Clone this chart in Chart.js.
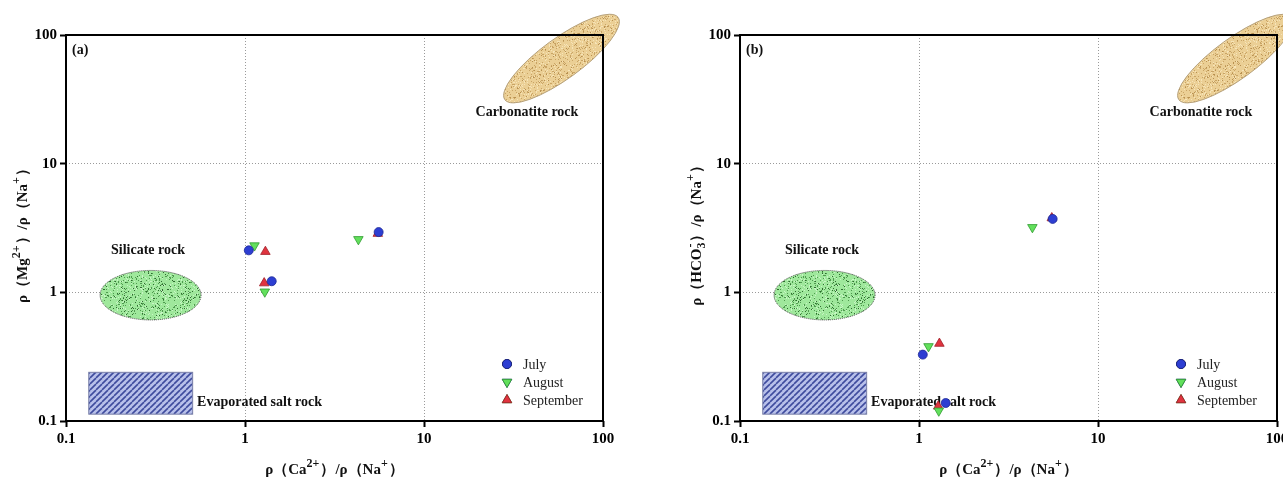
<!DOCTYPE html>
<html>
<head>
<meta charset="utf-8">
<script src="https://cdn.jsdelivr.net/npm/chart.js@4.4.1/dist/chart.umd.min.js"></script>
<style>
  html, body { margin: 0; padding: 0; background: #fff; overflow: hidden; width: 1283px; height: 481px; }
  canvas { position: absolute; top: 0; }
  #chartA { left: 0; }
  #chartB { left: 674px; }
</style>
</head>
<body>
<canvas id="chartA" width="640" height="481"></canvas>
<canvas id="chartB" width="640" height="481"></canvas>
<script>
// ---------------- DATA ----------------
const seriesNames = ['July', 'August', 'September'];
const tickValues = [0.1, 1, 10, 100];
const tickLabels = ['0.1', '1', '10', '100'];
// ρ(Ca2+)/ρ(Na+)
const julyCa = [1.05, 1.41, 5.58];
const augCa  = [1.13, 1.29, 4.30];
const sepCa  = [1.30, 1.28, 5.52];
// ρ(Mg2+)/ρ(Na+)  (panel a)
const julyMg = [2.12, 1.22, 2.94];
const augMg  = [2.31, 1.01, 2.58];
const sepMg  = [2.07, 1.18, 2.86];
// ρ(HCO3-)/ρ(Na+)  (panel b)
const julyHCO3 = [0.328, 0.138, 3.72];
const augHCO3  = [0.38, 0.12, 3.20];
const sepHCO3  = [0.40, 0.13, 3.78];
// region labels
const regionLabels = ['Carbonatite rock', 'Silicate rock', 'Evaporated salt rock'];
// axis titles: [text, mode] mode 0 normal, 1 superscript, 2 sub+sup stacked
const xTitleParts = [['ρ（Ca', 0], ['2+', 1], ['）/ρ（Na', 0], ['+', 1], ['）', 0]];
const yTitlePartsA = [['ρ（Mg', 0], ['2+', 1], ['）/ρ（Na', 0], ['+', 1], ['）', 0]];
const yTitlePartsB = [['ρ（HCO', 0], ['3|-', 2], ['）/ρ（Na', 0], ['+', 1], ['）', 0]];

// ---------------- STYLE / LAYOUT ----------------
const SERIF = "'Liberation Serif', 'Times New Roman', serif";
Chart.defaults.font.family = SERIF;
Chart.defaults.color = '#000';

// region shapes in data units
const shapes = {
  carbonTip1: [28.3, 31.4], carbonTip2: [121.5, 137], carbonMinorRatio: 0.29,
  silX: [0.155, 0.568], silY: [0.61, 1.48],
  evapX: [0.134, 0.51], evapY: [0.113, 0.239],
  carbonLabel: [37.6, 25.2], silLabel: [0.287, 2.13], evapLabel: [0.54, 0.1406]
};

function lcg(seed) { let s = seed; return () => { s = (s * 1664525 + 1013904223) % 4294967296; return s / 4294967296; }; }

function speckle(base, dots, seed) {
  const c = document.createElement('canvas'); c.width = 64; c.height = 64;
  const g = c.getContext('2d'); g.fillStyle = base; g.fillRect(0, 0, 64, 64);
  const r = lcg(seed);
  dots.forEach(([col, n]) => { g.fillStyle = col; for (let i = 0; i < n; i++) g.fillRect(Math.floor(r()*64), Math.floor(r()*64), 1, 1); });
  return c;
}
function hatch() {
  const c = document.createElement('canvas'); c.width = 6; c.height = 6;
  const g = c.getContext('2d'); g.fillStyle = '#b8c0ea'; g.fillRect(0, 0, 6, 6);
  g.strokeStyle = '#3f4c9e'; g.lineWidth = 1.6;
  for (let k = -6; k <= 12; k += 6) { g.beginPath(); g.moveTo(k, 6); g.lineTo(k + 6, 0); g.stroke(); }
  return c;
}

const MAINF = 'bold 15px ' + SERIF, SUPF = 'bold 12px ' + SERIF;
function richWidth(ctx, parts) {
  let w = 0;
  parts.forEach(([t, m]) => {
    if (m === 0) { ctx.font = MAINF; w += ctx.measureText(t).width; }
    else if (m === 2) { ctx.font = SUPF; const [a, b] = t.split('|'); w += Math.max(ctx.measureText(a).width, ctx.measureText(b).width) + 1; }
    else { ctx.font = SUPF; w += ctx.measureText(t).width + 1; }
  });
  return w;
}
function drawRich(ctx, parts, cx, cy, rot) {
  ctx.save();
  ctx.translate(cx, cy); ctx.rotate(rot);
  ctx.fillStyle = '#111'; ctx.textBaseline = 'alphabetic'; ctx.textAlign = 'left';
  let x = -richWidth(ctx, parts) / 2; const base = 5;
  parts.forEach(([t, m]) => {
    if (m === 0) { ctx.font = MAINF; ctx.fillText(t, x, base); x += ctx.measureText(t).width; }
    else if (m === 1) { ctx.font = SUPF; ctx.fillText(t, x, base - 7); x += ctx.measureText(t).width + 1; }
    else if (m === 2) {
      ctx.font = SUPF; const [a, b] = t.split('|');
      ctx.fillText(a, x, base + 4); ctx.fillText(b, x + 1, base - 7);
      x += Math.max(ctx.measureText(a).width, ctx.measureText(b).width) + 1;
    }
  });
  ctx.restore();
}

const regionsPlugin = {
  id: 'regions',
  beforeDatasetsDraw(chart) {
    const ctx = chart.ctx, xs = chart.scales.x, ys = chart.scales.y, ca = chart.chartArea;
    const px = v => xs.getPixelForValue(v), py = v => ys.getPixelForValue(v);
    ctx.save();
    // carbonatite ellipse
    const t1 = [px(shapes.carbonTip1[0]), py(shapes.carbonTip1[1])];
    const t2 = [px(shapes.carbonTip2[0]), py(shapes.carbonTip2[1])];
    const cx = (t1[0] + t2[0]) / 2, cy = (t1[1] + t2[1]) / 2;
    const a = Math.hypot(t2[0] - t1[0], t2[1] - t1[1]) / 2;
    const ang = Math.atan2(t2[1] - t1[1], t2[0] - t1[0]);
    ctx.beginPath();
    ctx.ellipse(cx, cy, a, a * shapes.carbonMinorRatio, ang, 0, Math.PI * 2);
    ctx.fillStyle = ctx.createPattern(speckle('#ebcf95', [['#c9a465', 500], ['#f6e4b8', 400], ['#b89050', 120]], 7), 'repeat');
    ctx.fill();
    ctx.strokeStyle = '#b5a07a'; ctx.lineWidth = 1; ctx.stroke();
    // silicate ellipse
    const sx1 = px(shapes.silX[0]), sx2 = px(shapes.silX[1]);
    const sy1 = py(shapes.silY[1]), sy2 = py(shapes.silY[0]);
    ctx.beginPath();
    ctx.ellipse((sx1 + sx2) / 2, (sy1 + sy2) / 2, (sx2 - sx1) / 2, (sy2 - sy1) / 2, 0, 0, Math.PI * 2);
    ctx.fillStyle = ctx.createPattern(speckle('#9fe89c', [['#4f9a4f', 450], ['#c8f5c5', 350], ['#2f6a30', 150]], 13), 'repeat');
    ctx.fill();
    ctx.setLineDash([1, 1]); ctx.strokeStyle = '#444'; ctx.lineWidth = 1; ctx.stroke(); ctx.setLineDash([]);
    // evaporite rectangle
    const ex1 = px(shapes.evapX[0]), ex2 = px(shapes.evapX[1]);
    const ey1 = py(shapes.evapY[1]), ey2 = py(shapes.evapY[0]);
    ctx.fillStyle = ctx.createPattern(hatch(), 'repeat');
    ctx.fillRect(ex1, ey1, ex2 - ex1, ey2 - ey1);
    ctx.strokeStyle = '#7a80a8'; ctx.lineWidth = 1; ctx.strokeRect(ex1, ey1, ex2 - ex1, ey2 - ey1);
    // labels
    ctx.font = 'bold 14px ' + SERIF; ctx.fillStyle = '#111'; ctx.textBaseline = 'middle';
    ctx.textAlign = 'center';
    ctx.fillText(regionLabels[0], px(shapes.carbonLabel[0]), py(shapes.carbonLabel[1]));
    ctx.fillText(regionLabels[1], px(shapes.silLabel[0]), py(shapes.silLabel[1]));
    ctx.textAlign = 'left';
    ctx.fillText(regionLabels[2], px(shapes.evapLabel[0]), py(shapes.evapLabel[1]));
    // panel label
    ctx.font = 'bold 14px ' + SERIF;
    ctx.fillText(chart.options.plugins.regions.panel, ca.left + 6, ca.top + 15);
    // frame
    ctx.strokeStyle = '#000'; ctx.lineWidth = 2;
    ctx.strokeRect(ca.left, ca.top, ca.right - ca.left, ca.bottom - ca.top);
    ctx.restore();
  },
  afterDraw(chart) {
    const ctx = chart.ctx, ca = chart.chartArea, o = chart.options.plugins.regions;
    ctx.save();
    // axis titles
    drawRich(ctx, o.xTitle, (ca.left + ca.right) / 2, 469, 0);
    drawRich(ctx, o.yTitle, 22, (ca.top + ca.bottom) / 2 + 4, -Math.PI / 2);
    // legend
    ctx.font = '14px ' + SERIF; ctx.textBaseline = 'middle'; ctx.textAlign = 'left';
    chart.data.datasets.forEach((ds, i) => {
      const mx = ca.right - 96, my = ca.bottom - 57 + i * 18;
      Chart.helpers.drawPoint(ctx, {pointStyle: ds.pointStyle, rotation: ds.rotation || 0, radius: ds.pointRadius, borderWidth: ds.borderWidth}, mx, my);
      ctx.fillStyle = ds.backgroundColor; ctx.strokeStyle = ds.borderColor; ctx.lineWidth = ds.borderWidth;
      ctx.fill(); ctx.stroke();
      ctx.fillStyle = '#222';
      ctx.fillText(ds.label, ca.right - 80, my + 1);
    });
    ctx.restore();
  }
};

function pts(xs, ys) { return xs.map((x, i) => ({x: x, y: ys[i]})); }

function makeAxis(isX) {
  return {
    type: 'logarithmic', min: 0.1, max: 100,
    afterBuildTicks(scale) { scale.ticks = tickValues.map(v => ({value: v, major: true})); },
    afterFit(scale) { if (isX) scale.height = 60; else scale.width = 66; },
    ticks: {
      autoSkip: false, maxRotation: 0, padding: 3, color: '#000',
      font: {size: 15, weight: 'bold', family: SERIF},
      callback: (v) => { const k = tickValues.indexOf(v); return k >= 0 ? tickLabels[k] : ''; }
    },
    grid: { color: '#9a9a9a', lineWidth: 1, tickLength: 6, tickColor: '#000', tickWidth: 2, tickBorderDash: [] },
    border: { display: false, dash: [1, 2] },
    title: { display: false }
  };
}

function makeChart(id, yVals, yTitle, panel) {
  const datasets = [
    {label: seriesNames[0], data: pts(julyCa, yVals[0]), pointStyle: 'circle', rotation: 0, pointRadius: 4.5,
     backgroundColor: '#2d3ed2', borderColor: '#1d2896', borderWidth: 0.8},
    {label: seriesNames[1], data: pts(augCa, yVals[1]), pointStyle: 'triangle', rotation: 180, pointRadius: 5.5,
     backgroundColor: '#62e05c', borderColor: '#2f9a2f', borderWidth: 0.8},
    {label: seriesNames[2], data: pts(sepCa, yVals[2]), pointStyle: 'triangle', rotation: 0, pointRadius: 5.5,
     backgroundColor: '#e0343f', borderColor: '#a0202a', borderWidth: 0.8}
  ];
  return new Chart(document.getElementById(id), {
    type: 'scatter',
    data: {datasets},
    options: {
      responsive: false, animation: false, devicePixelRatio: 1,
      layout: {padding: {left: 0, top: 35, right: 37, bottom: 0}},
      plugins: {legend: {display: false}, tooltip: {enabled: false},
                regions: {panel: panel, xTitle: xTitleParts, yTitle: yTitle}},
      scales: { x: makeAxis(true), y: makeAxis(false) }
    },
    plugins: [regionsPlugin]
  });
}

makeChart('chartA', [julyMg, augMg, sepMg], yTitlePartsA, '(a)');
makeChart('chartB', [julyHCO3, augHCO3, sepHCO3], yTitlePartsB, '(b)');
</script>
</body>
</html>
